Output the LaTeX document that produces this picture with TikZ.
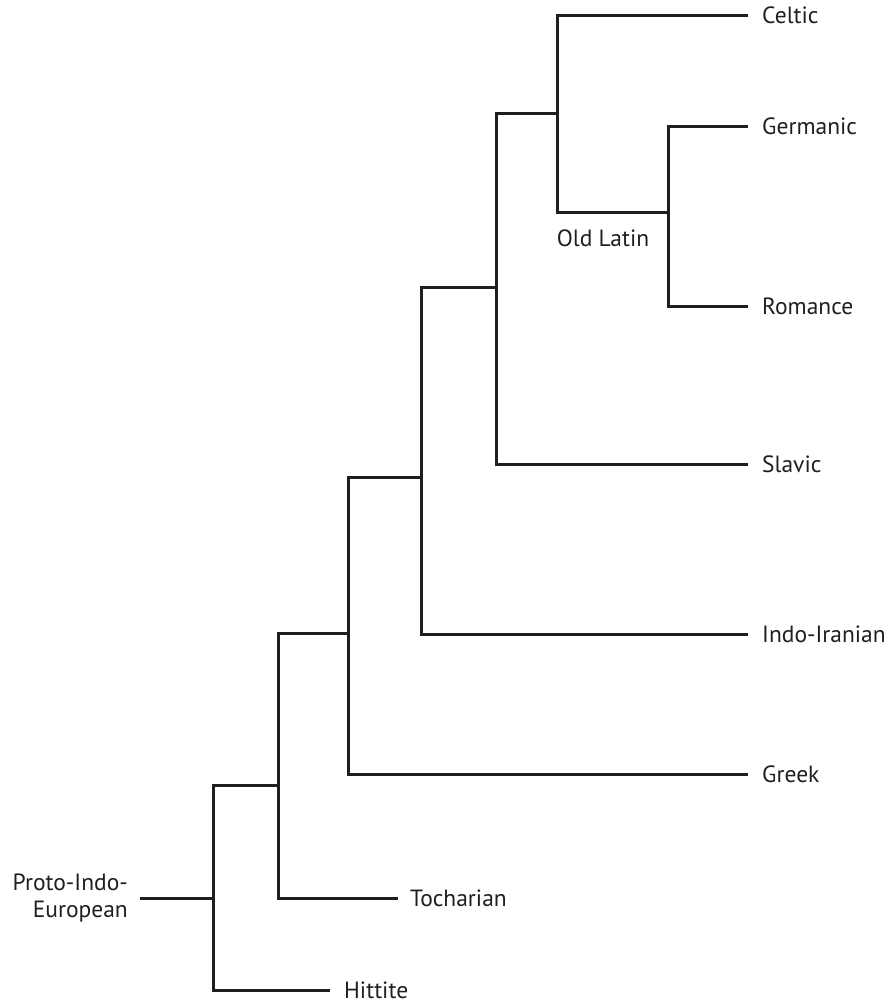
\documentclass[tikz,border=0pt]{standalone}
\usepackage{fontspec}
\setmainfont{PT Sans}
\begin{document}
\begin{tikzpicture}[x=1pt,y=-1pt,
  lang/.style={font=\fontsize{23.5}{27}\selectfont, inner xsep=14pt, inner ysep=0pt, text=black!88},
  branch/.style={line width=3pt, draw=black!88}]
\useasboundingbox (0,0) rectangle (887,1002);
% leaves
\node[lang,anchor=west] (celtic) at (748,15) {Celtic};
\node[lang,anchor=west] (germanic) at (748,126) {Germanic};
\node[lang,anchor=west] (romance) at (748,306) {Romance};
\node[lang,anchor=west] (slavic) at (748,464) {Slavic};
\node[lang,anchor=west] (indoiranian) at (748,634) {Indo-Iranian};
\node[lang,anchor=west] (greek) at (748,774) {Greek};
\node[lang,anchor=west,inner xsep=12pt] (tocharian) at (398,898) {Tocharian};
\node[lang,anchor=west] (hittite) at (330,990) {Hittite};
\node[lang,anchor=east,align=right,inner xsep=12pt] (pie) at (140,898) {Proto-Indo-\\European};
% branching points
\coordinate (n1) at (213,898);
\coordinate (n2) at (278,785);
\coordinate (n3) at (348,633);
\coordinate (n4) at (421,477);
\coordinate (n5) at (496,287);
\coordinate (n6) at (557,113);
\coordinate (n7) at (668,212);
\node[lang,inner xsep=0pt] (oldlatin) at (603,238) {Old Latin};
% the tree
\draw[branch] (pie.east) -- (n1);
\draw[branch] (hittite.west) -| (n1) |- (n2);
\draw[branch] (tocharian.west) -| (n2) |- (n3);
\draw[branch] (greek.west) -| (n3) |- (n4);
\draw[branch] (indoiranian.west) -| (n4) |- (n5);
\draw[branch] (slavic.west) -| (n5) |- (n6);
\draw[branch] (celtic.west) -| (n6) |- (n7);
\draw[branch] (germanic.west) -| (n7) |- (romance.west);
\end{tikzpicture}
\end{document}
